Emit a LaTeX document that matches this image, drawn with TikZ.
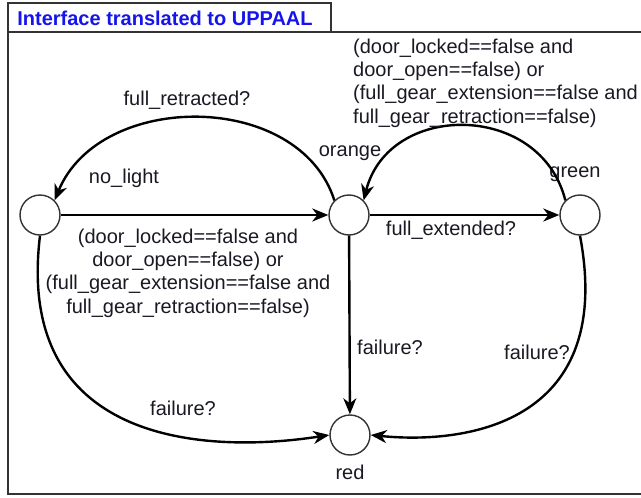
\documentclass[tikz,border=0pt]{standalone}
\usepackage{fontspec}
\setmainfont{Liberation Sans}
\usetikzlibrary{arrows.meta}
\definecolor{titleblue}{RGB}{20,20,235}
\definecolor{txt}{RGB}{25,25,35}
\begin{document}
\begin{tikzpicture}[x=1pt,y=-1pt,
  loc/.style={circle,draw=black!80,line width=1.4pt,minimum size=40pt,inner sep=0pt,fill=white},
  lbl/.style={inner sep=0pt,text=txt,font=\fontsize{20}{23.3}\selectfont},
  edge/.style={line width=2.4pt,-{Stealth[length=16pt,width=13pt,inset=5pt]}},
  frame/.style={draw=black!80,line width=1.6pt}]
\useasboundingbox (0,0) rectangle (641,498);
% frame and tab
\draw[frame] (641,32) -- (8,32) -- (8,494) -- (641,494);
\draw[frame] (8,32) |- (331,3) -- (331,32);
\node[inner sep=0pt,text=titleblue,font=\fontsize{20}{23}\selectfont\bfseries] (title) at (165,18) {Interface translated to UPPAAL};
% locations
\node[loc] (nl) at (40,215) {};
\node[loc] (or) at (349,215) {};
\node[loc] (gr) at (580,215) {};
\node[loc] (rd) at (350,435) {};
% location names
\node[lbl] (nlname) at (124,178) {no\_light};
\node[lbl] (orname) at (350,153) {orange};
\node[lbl] (grname) at (575,174) {green};
\node[lbl] (rdname) at (350,472) {red};
% edges
\draw[edge] (nl) -- (or);
\draw[edge] (or) -- (gr);
\draw[edge] (or) -- (rd);
\draw[edge] (or.135) .. controls +(-35,-110) and +(45,-110) .. (nl.45);
\draw[edge] (gr.135) .. controls +(-25,-99) and +(25,-99) .. (or.45);
\draw[edge] (gr.south) .. controls +(35,185) and +(100,10) .. (rd.east);
\draw[edge] (nl.south) .. controls +(-25,205) and +(-130,20) .. (rd.west);
% edge labels
\node[lbl] (lret) at (187,100) {full\_retracted?};
\node[lbl,align=left,anchor=west] (lguard2) at (353,83) {(door\_locked==false and\\door\_open==false) or\\(full\_gear\_extension==false and\\full\_gear\_retraction==false)};
\node[lbl,align=center] (lguard1) at (188,273) {(door\_locked==false and\\door\_open==false) or\\(full\_gear\_extension==false and\\full\_gear\_retraction==false)};
\node[lbl] (lext) at (451,230) {full\_extended?};
\node[lbl] (lf1) at (390,347) {failure?};
\node[lbl] (lf2) at (537,352) {failure?};
\node[lbl] (lf3) at (183,408) {failure?};
\end{tikzpicture}
\end{document}
